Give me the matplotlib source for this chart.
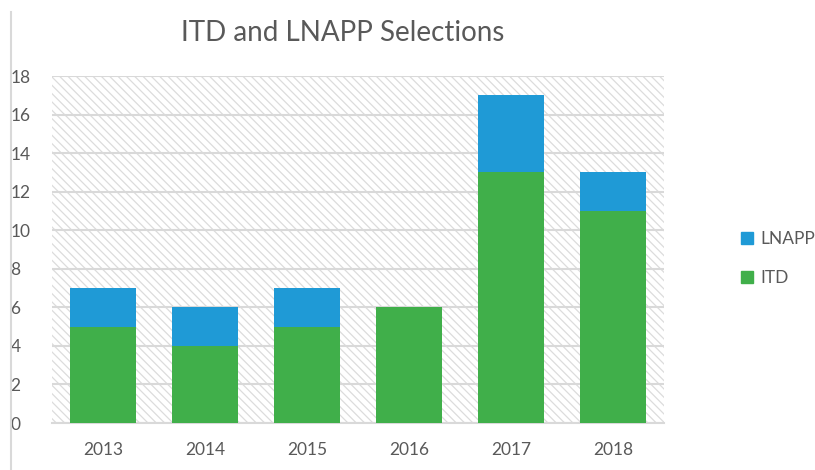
import matplotlib.pyplot as plt
from matplotlib.patches import Rectangle
from matplotlib.lines import Line2D

years = ["2013", "2014", "2015", "2016", "2017", "2018"]
itd = [5, 4, 5, 6, 13, 11]
lnapp = [2, 2, 2, 0, 4, 2]

green = "#40AF4A"
blue = "#1F9AD6"
grey_text = "#595959"

plt.rcParams["font.family"] = ["Lato", "DejaVu Sans"]
plt.rcParams["hatch.color"] = "#DCDCDC"
plt.rcParams["hatch.linewidth"] = 0.9

fig = plt.figure(figsize=(8.15, 4.7), dpi=100)
ax = fig.add_axes([0.064, 0.1, 0.751, 0.738])

# hatched plot background
bg = Rectangle((0, 0), 1, 1, transform=ax.transAxes, facecolor="white",
               edgecolor="#DCDCDC", hatch="\\\\\\\\", linewidth=0, zorder=0)
ax.add_patch(bg)

x = range(len(years))
ax.bar(x, itd, width=0.65, color=green, label="ITD", zorder=3)
ax.bar(x, lnapp, width=0.65, bottom=itd, color=blue, label="LNAPP", zorder=3)

ax.set_ylim(0, 18)
ax.set_xlim(-0.5, len(years) - 0.5)
ax.set_yticks(range(0, 19, 2))
ax.set_xticks(list(x))
ax.set_xticklabels(years)
ax.yaxis.grid(True, color="#D9D9D9", linewidth=1.5, zorder=1)
ax.set_axisbelow(True)
for s in ["top", "right", "left"]:
    ax.spines[s].set_visible(False)
ax.spines["bottom"].set_color("#D9D9D9")
ax.spines["bottom"].set_linewidth(1.5)
ax.tick_params(length=0, labelsize=12.5, colors=grey_text, pad=14)
ax.tick_params(axis="y", pad=30)
for lbl in ax.get_yticklabels():
    lbl.set_horizontalalignment("left")

fig.text(0.421, 0.93, "ITD and LNAPP Selections", ha="center", va="center",
         fontsize=20, color=grey_text)

handles = [Rectangle((0, 0), 1, 1, color=blue), Rectangle((0, 0), 1, 1, color=green)]
fig.legend(handles, ["LNAPP", "ITD"], loc="center left", bbox_to_anchor=(0.89, 0.45),
           frameon=False, fontsize=12.5, labelcolor=grey_text, handlelength=0.7,
           handleheight=0.7, handletextpad=0.4, labelspacing=1.3)

fig.add_artist(Line2D([0.013, 0.013], [0.0, 0.975], transform=fig.transFigure,
                      color="#D9D9D9", linewidth=1.5))

fig.savefig("out.png", dpi=100)
